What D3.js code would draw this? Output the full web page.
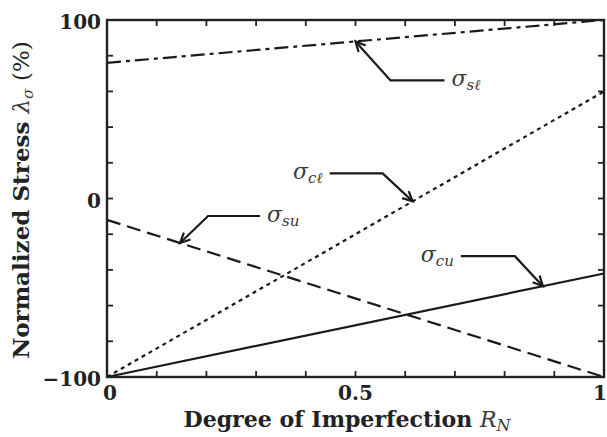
<!DOCTYPE html>
<html>
<head>
<meta charset="utf-8">
<script src="https://cdn.jsdelivr.net/npm/d3@7"></script>
<style>
  html, body { margin: 0; padding: 0; background: #fff; }
  svg { display: block; }
  .tick-label, .axis-title { font-family: "DejaVu Serif", serif; font-weight: bold; fill: #222; }
  .sym { font-family: "DejaVu Serif", serif; font-style: italic; fill: #3a3a3a; }
</style>
</head>
<body>
<svg id="chart" width="607" height="437"></svg>
<script>
// Degree of imperfection (x) and the four normalized stress components (%)
const rn = [0, 1];
const sigmaSl = [76, 100];   // dash-dot
const sigmaCl = [-100, 60];  // dotted
const sigmaSu = [-12, -100]; // dashed
const sigmaCu = [-100, -42]; // solid

const xTickValues = [0, 0.5, 1];
const xTickLabels = ["0", "0.5", "1"];
const yTickValues = [-100, 0, 100];
const yTickLabels = ["\u2212100", "0", "100"];

const W = 607, H = 437;
const margin = { left: 107, right: 3, top: 20, bottom: 60 };

const svg = d3.select("#chart");
svg.append("rect").attr("width", W).attr("height", H).attr("fill", "#fff");

const x = d3.scaleLinear().domain([0, 1]).range([margin.left, W - margin.right]);
const y = d3.scaleLinear().domain([-100, 100]).range([H - margin.bottom, margin.top]);

// Minor inward ticks on all four sides
const minorX = d3.range(0, 1.0001, 0.1);
const minorY = d3.range(-100, 100.001, 20);
const tickLen = 6;
const g = svg.append("g").attr("stroke", "#222").attr("stroke-width", 1.8);
minorX.forEach(v => {
  g.append("line").attr("x1", x(v)).attr("x2", x(v)).attr("y1", y(-100)).attr("y2", y(-100) - tickLen);
  g.append("line").attr("x1", x(v)).attr("x2", x(v)).attr("y1", y(100)).attr("y2", y(100) + tickLen);
});
minorY.forEach(v => {
  g.append("line").attr("x1", x(0)).attr("x2", x(0) + tickLen).attr("y1", y(v)).attr("y2", y(v));
  g.append("line").attr("x1", x(1)).attr("x2", x(1) - tickLen).attr("y1", y(v)).attr("y2", y(v));
});

// Series lines
const line = d3.line().x(d => x(d[0])).y(d => y(d[1]));
const series = [
  { vals: sigmaSl, dash: "14,5,4,5" },
  { vals: sigmaCl, dash: "4,4" },
  { vals: sigmaSu, dash: "14,7" },
  { vals: sigmaCu, dash: null }
];
series.forEach(s => {
  svg.append("path")
    .datum(rn.map((r, i) => [r, s.vals[i]]))
    .attr("d", line)
    .attr("fill", "none")
    .attr("stroke", "#1a1a1a")
    .attr("stroke-width", 2.2)
    .attr("stroke-dasharray", s.dash);
});

// Frame
svg.append("rect")
  .attr("x", x(0)).attr("y", y(100))
  .attr("width", x(1) - x(0)).attr("height", y(-100) - y(100))
  .attr("fill", "none").attr("stroke", "#222").attr("stroke-width", 2.4);

// Tick labels
xTickValues.forEach((v, i) => {
  const px = v === 0 ? x(v) + 3 : (v === 1 ? x(v) - 4 : x(v));
  svg.append("text").attr("class", "tick-label")
    .attr("x", px).attr("y", y(-100) + 23)
    .attr("text-anchor", "middle").attr("font-size", 20)
    .text(xTickLabels[i]);
});
yTickValues.forEach((v, i) => {
  svg.append("text").attr("class", "tick-label")
    .attr("x", x(0) - 6).attr("y", y(v) + 9)
    .attr("text-anchor", "end").attr("font-size", 20)
    .text(yTickLabels[i]);
});

// Scale a text's font so that it spans the given width
function fitWidth(sel, target) {
  const len = sel.node().getComputedTextLength();
  const k = target / len;
  sel.attr("font-size", 18 * k);
  sel.selectAll("tspan[data-fs]").each(function () {
    d3.select(this).attr("font-size", +this.getAttribute("data-fs") * k);
  });
}

// Axis titles
const xt = svg.append("text").attr("class", "axis-title")
  .attr("x", 347).attr("y", 427).attr("text-anchor", "middle").attr("font-size", 18);
xt.append("tspan").text("Degree of Imperfection ");
xt.append("tspan").attr("class", "sym").attr("font-weight", "normal").text("R");
xt.append("tspan").attr("class", "sym").attr("font-weight", "normal")
  .attr("data-fs", 13).attr("font-size", 13).attr("dy", 4).text("N");
fitWidth(xt, 327);

const yt = svg.append("text").attr("class", "axis-title")
  .attr("transform", "translate(29,200) rotate(-90)")
  .attr("text-anchor", "middle").attr("font-size", 18);
yt.append("tspan").text("Normalized Stress ");
yt.append("tspan").attr("class", "sym").attr("font-weight", "normal").text("\u03bb");
yt.append("tspan").attr("class", "sym").attr("font-weight", "normal")
  .attr("data-fs", 12).attr("font-size", 12).attr("dy", 4).text("\u03c3");
yt.append("tspan").attr("dy", -4).attr("font-weight", "normal").text(" (%)");
fitWidth(yt, 318);

// Callouts: arrow tip sits on the series at rx; elbow and label offsets in px
const valueAt = (vals, r) => vals[0] + (vals[1] - vals[0]) * r;
const callouts = [
  { vals: sigmaSl, rx: 0.5,   dx: 35,  dy: 39,  run: 54, sub: "s\u2113" },
  { vals: sigmaCl, rx: 0.615, dx: -30, dy: -28, run: 53, sub: "c\u2113" },
  { vals: sigmaSu, rx: 0.147, dx: 28,  dy: -27, run: 52, sub: "su" },
  { vals: sigmaCu, rx: 0.877, dx: -28, dy: -30, run: 54, sub: "cu" }
];
callouts.forEach(c => {
  const tx = x(c.rx), ty = y(valueAt(c.vals, c.rx));
  const ex = tx + c.dx, ey = ty + c.dy;
  const dir = c.dx > 0 ? 1 : -1;
  const hx = ex + dir * c.run;
  svg.append("polyline")
    .attr("points", [[hx, ey], [ex, ey], [tx, ty]].map(p => p.join(",")).join(" "))
    .attr("fill", "none").attr("stroke", "#1a1a1a").attr("stroke-width", 2.2);
  // open arrowhead
  const ang = Math.atan2(ty - ey, tx - ex);
  const L = 11, spread = 0.45;
  const p1 = [tx - L * Math.cos(ang - spread), ty - L * Math.sin(ang - spread)];
  const p2 = [tx - L * Math.cos(ang + spread), ty - L * Math.sin(ang + spread)];
  svg.append("polyline")
    .attr("points", [p1, [tx, ty], p2].map(p => p.join(",")).join(" "))
    .attr("fill", "none").attr("stroke", "#1a1a1a").attr("stroke-width", 2.2)
    .attr("stroke-linejoin", "miter");
  const lbl = svg.append("text").attr("class", "sym")
    .attr("x", hx + dir * 7).attr("y", ey + 6)
    .attr("text-anchor", dir > 0 ? "start" : "end").attr("font-size", 22);
  lbl.append("tspan").text("\u03c3");
  lbl.append("tspan").attr("font-size", 15).attr("dy", 4).text(c.sub);
});
</script>
</body>
</html>
